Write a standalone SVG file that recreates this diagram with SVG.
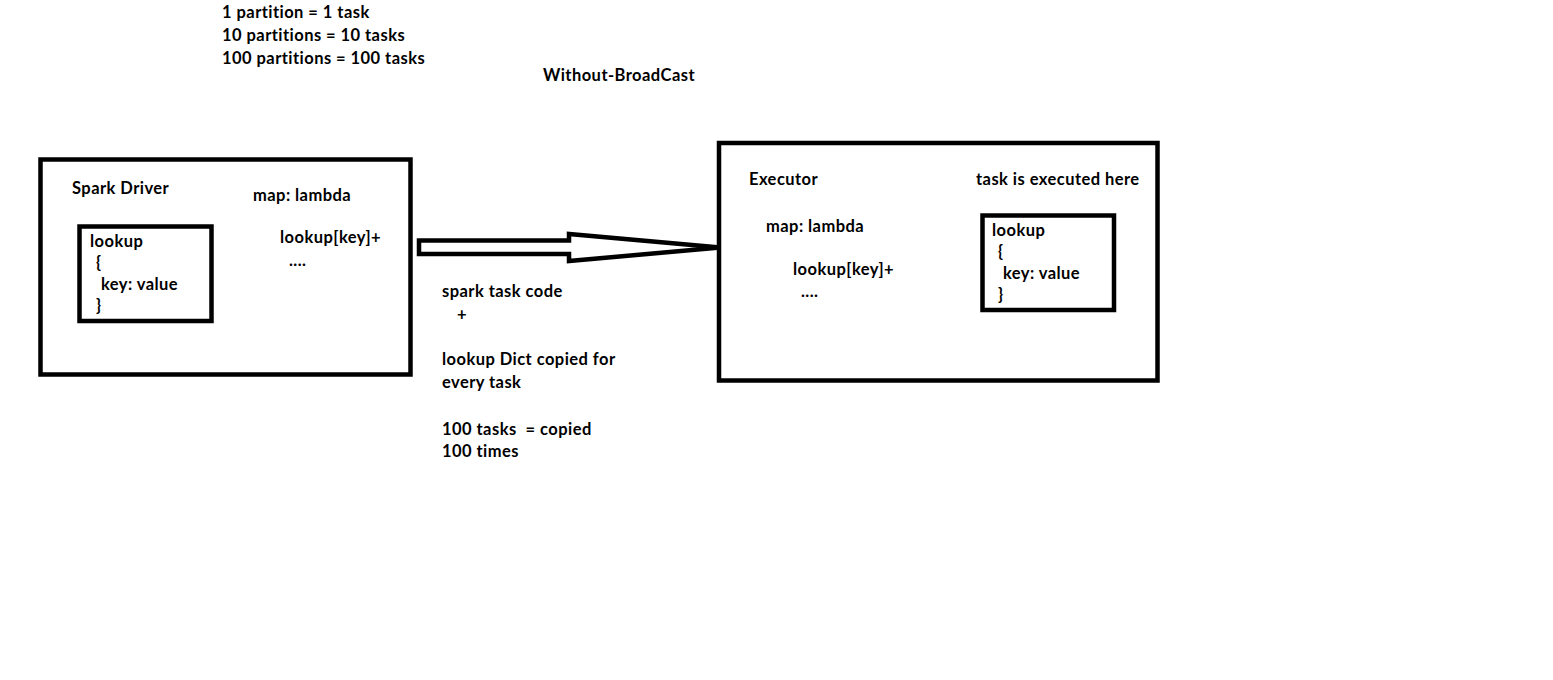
<svg xmlns="http://www.w3.org/2000/svg" width="1553" height="680" viewBox="0 0 1553 680">
<style>
text{font-family:Lato,"Liberation Sans",sans-serif;font-weight:700;font-size:16.5px;letter-spacing:0.45px;fill:#000;white-space:pre}
.box{fill:none;stroke:#000;stroke-width:4.5}
</style>
<rect width="1553" height="680" fill="#fff"/>
<g id="notes">
<text x="222" y="18">1 partition = 1 task</text>
<text x="222" y="41">10 partitions = 10 tasks</text>
<text x="222" y="64">100 partitions = 100 tasks</text>
<text x="543" y="81">Without-BroadCast</text>
</g>
<g id="driver">
<rect class="box" x="40.5" y="159.5" width="370" height="215"/>
<text x="72" y="194">Spark Driver</text>
<text x="253" y="201">map: lambda</text>
<text x="280" y="243">lookup[key]+</text>
<text x="289" y="266">....</text>
</g>
<g id="driver-lookup">
<rect class="box" x="79.5" y="226.5" width="132" height="94.5"/>
<text x="90" y="247">lookup</text>
<text x="96" y="268">{</text>
<text x="101" y="290">key: value</text>
<text x="96" y="311">}</text>
</g>
<g id="executor">
<rect class="box" x="719" y="143" width="438.5" height="237.5"/>
<text x="749" y="185">Executor</text>
<text x="976" y="185">task is executed here</text>
<text x="766" y="232">map: lambda</text>
<text x="793" y="275">lookup[key]+</text>
<text x="801" y="297">....</text>
</g>
<g id="executor-lookup">
<rect class="box" x="982.5" y="215.5" width="131.5" height="94.5"/>
<text x="992" y="236">lookup</text>
<text x="998" y="257">{</text>
<text x="1003" y="279">key: value</text>
<text x="998" y="300">}</text>
</g>
<g id="connectors">
<polygon points="419,240.5 569,240.5 569,234 720,247.5 569,261 569,254 419,254" fill="none" stroke="#000" stroke-width="4.5" stroke-linejoin="miter"/>
</g>
<g id="transfer-label">
<text x="442" y="297">spark task code</text>
<text x="457" y="320">+</text>
<text x="442" y="365">lookup Dict copied for</text>
<text x="442" y="388">every task</text>
<text x="442" y="435">100 tasks  = copied</text>
<text x="442" y="457">100 times</text>
</g>
</svg>
